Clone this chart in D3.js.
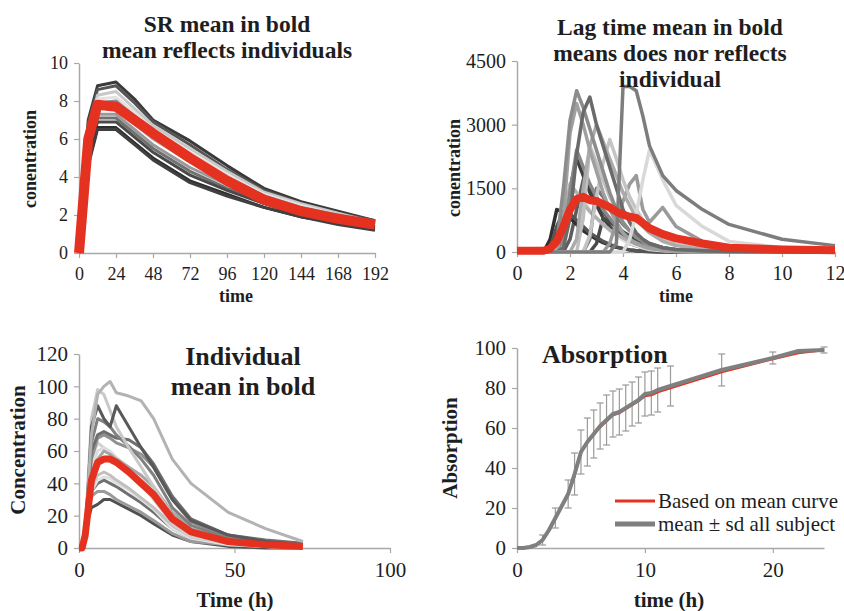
<!DOCTYPE html>
<head>
<meta charset="utf-8">
<title>PK panels</title>
<style>
  body { margin: 0; background: #fff; }
  svg, svg text { font-family: "Liberation Serif", Tinos, "Times New Roman", Times, "DejaVu Serif", serif; }
</style>
</head>
<body>
<script src="https://cdn.jsdelivr.net/npm/d3@7/dist/d3.min.js"></script>
<script>

// ---- panel 1 : SR ----
const srTime = [0, 6, 12, 24, 36, 48, 72, 96, 120, 144, 168, 192];
const srMean = [0, 6.0, 7.8, 7.7, 7.0, 6.3, 5.0, 3.8, 2.8, 2.2, 1.8, 1.5];
const srSubjects = [
  [0, 7.0, 8.8, 9.0, 8.1, 7.0, 5.9, 4.6, 3.4, 2.7, 2.2, 1.7],
  [0, 6.8, 8.6, 8.8, 7.9, 6.9, 5.7, 4.4, 3.3, 2.6, 2.1, 1.7],
  [0, 6.5, 8.3, 8.5, 7.6, 6.7, 5.5, 4.3, 3.2, 2.6, 2.1, 1.6],
  [0, 6.3, 8.1, 8.2, 7.4, 6.5, 5.3, 4.1, 3.1, 2.5, 2.0, 1.6],
  [0, 6.1, 7.9, 8.0, 7.2, 6.3, 5.1, 4.0, 3.0, 2.4, 2.0, 1.6],
  [0, 5.8, 7.6, 7.6, 6.8, 6.0, 4.8, 3.8, 2.9, 2.3, 1.9, 1.5],
  [0, 5.5, 7.3, 7.3, 6.5, 5.7, 4.5, 3.6, 2.8, 2.2, 1.8, 1.5],
  [0, 5.2, 7.1, 7.1, 6.3, 5.5, 4.3, 3.4, 2.7, 2.1, 1.7, 1.4],
  [0, 5.0, 6.9, 6.9, 6.1, 5.3, 4.1, 3.3, 2.6, 2.0, 1.7, 1.4],
  [0, 4.7, 6.6, 6.6, 5.8, 5.0, 3.8, 3.1, 2.4, 1.9, 1.6, 1.3],
  [0, 4.6, 6.5, 6.5, 5.7, 4.9, 3.7, 3.0, 2.4, 1.9, 1.5, 1.2]
];
const srColors = ['#3a3a3a', '#555', '#c8c8c8', '#e2e2e2', '#8a8a8a', '#b0b0b0',
                  '#999', '#707070', '#4a4a4a', '#2e2e2e', '#404040'];
const srXTicks = [0, 24, 48, 72, 96, 120, 144, 168, 192];
const srYTicks = [0, 2, 4, 6, 8, 10];

// ---- panel 2 : lag time ----
const lagTime = [0, 1, 1.25, 1.5, 1.75, 2, 2.25, 2.5, 2.75, 3, 3.25, 3.5, 3.75, 4,
                 4.25, 4.5, 4.75, 5, 5.5, 6, 7, 8, 10, 12];
const lagMean = [30, 30, 80, 250, 600, 1000, 1250, 1300, 1220, 1200, 1130, 1050, 950, 880,
                 830, 800, 680, 560, 420, 320, 200, 100, 60, 40];
const lagSubjects = [
  [0, 0, 0, 0, 0, 300, 1000, 1700, 1500, 1200, 950, 750, 550, 400, 300, 200, 150, 100, 50, 20, 0, 0, 0, 0],
  [0, 0, 300, 1000, 950, 800, 650, 500, 400, 300, 220, 160, 110, 80, 50, 30, 20, 10, 0, 0, 0, 0, 0, 0],
  [0, 0, 100, 600, 950, 900, 750, 600, 450, 350, 250, 180, 120, 80, 50, 30, 20, 10, 0, 0, 0, 0, 0, 0],
  [0, 0, 0, 0, 400, 1500, 2200, 1800, 1400, 1100, 800, 600, 400, 300, 200, 150, 100, 60, 30, 10, 0, 0, 0, 0],
  [0, 0, 0, 0, 0, 0, 0, 0, 0, 200, 800, 700, 600, 480, 380, 300, 230, 170, 100, 50, 20, 0, 0, 0],
  [0, 0, 0, 0, 0, 0, 300, 1200, 1000, 800, 650, 500, 380, 280, 200, 150, 100, 60, 30, 10, 0, 0, 0, 0],
  [0, 0, 0, 0, 400, 1600, 1400, 1150, 950, 800, 650, 520, 420, 330, 250, 190, 140, 100, 50, 25, 10, 0, 0, 0],
  [0, 0, 0, 0, 0, 0, 0, 0, 300, 1500, 1300, 1050, 850, 650, 500, 380, 280, 200, 100, 50, 20, 0, 0, 0],
  [0, 0, 0, 0, 300, 1400, 2400, 2000, 1600, 1300, 1000, 800, 600, 450, 300, 200, 150, 100, 50, 20, 0, 0, 0, 0],
  [0, 0, 0, 0, 0, 0, 0, 800, 2500, 2100, 1700, 1300, 1000, 700, 500, 350, 250, 180, 100, 50, 20, 0, 0, 0],
  [0, 0, 0, 0, 0, 0, 0, 0, 0, 0, 0, 200, 700, 1200, 1600, 1800, 1000, 700, 1050, 600, 250, 100, 30, 0],
  [0, 0, 0, 0, 0, 0, 0, 0, 400, 1300, 2100, 2650, 2200, 1700, 1300, 1000, 750, 550, 300, 180, 80, 30, 0, 0],
  [0, 0, 0, 0, 0, 0, 300, 1500, 2500, 3000, 2600, 2200, 1800, 1400, 1100, 800, 600, 450, 250, 150, 60, 20, 0, 0],
  [0, 0, 0, 0, 800, 2800, 3500, 3000, 2400, 1900, 1400, 1000, 700, 450, 300, 200, 130, 80, 40, 20, 0, 0, 0, 0],
  [0, 0, 0, 200, 1500, 3100, 3800, 3400, 2900, 2400, 1900, 1400, 1000, 700, 500, 350, 250, 180, 100, 60, 30, 10, 0, 0],
  [0, 0, 0, 0, 100, 800, 2300, 3300, 3650, 3000, 2500, 2000, 1500, 1000, 700, 450, 300, 200, 100, 60, 30, 10, 0, 0],
  [0, 0, 0, 0, 0, 0, 0, 0, 0, 0, 0, 0, 0, 0, 300, 900, 1700, 2400, 1700, 1100, 600, 250, 100, 50],
  [0, 0, 0, 0, 0, 0, 0, 0, 0, 0, 0, 0, 200, 3900, 3900, 3800, 3200, 2500, 1800, 1450, 1000, 650, 300, 150]
];
const lagColors = ['#5c5c5c', '#303030', '#555', '#404040', '#4a4a4a', '#e0e0e0',
                   '#b0b0b0', '#777', '#888', '#bfbfbf', '#9a9a9a', '#c4c4c4',
                   '#ababab', '#a0a0a0', '#8c8c8c', '#6a6a6a', '#d9d9d9', '#7d7d7d'];
const lagXTicks = [0, 2, 4, 6, 8, 10, 12];
const lagYTicks = [0, 1500, 3000, 4500];

// ---- panel 3 : individual ----
const indTime = [0, 1, 2, 3, 4, 6, 8, 10, 12, 16, 20, 24, 30, 36, 48, 60, 72];
const indMean = [0, 0, 8, 25, 42, 53, 55, 55, 53, 47, 40, 33, 18, 10, 4, 2, 1];
const indSubjects = [
  [0, 0, 5, 18, 25, 27, 30, 30, 28, 24, 20, 15, 8, 4, 1, 0, 0],
  [0, 0, 6, 22, 32, 35, 35, 33, 30, 26, 22, 17, 9, 4, 2, 1, 0],
  [0, 0, 5, 20, 35, 40, 42, 40, 38, 33, 28, 22, 12, 6, 2, 1, 0],
  [0, 0, 5, 20, 35, 42, 44, 43, 40, 36, 30, 24, 12, 6, 2, 1, 0],
  [0, 0, 6, 22, 38, 45, 47, 45, 42, 37, 31, 25, 14, 7, 3, 1, 0],
  [0, 0, 8, 30, 55, 65, 62, 58, 55, 48, 40, 30, 15, 7, 3, 1, 0],
  [0, 0, 7, 28, 50, 60, 62, 60, 56, 50, 43, 36, 20, 10, 4, 2, 1],
  [0, 0, 6, 25, 45, 55, 60, 58, 55, 50, 45, 38, 22, 12, 5, 2, 1],
  [0, 0, 8, 30, 55, 68, 70, 68, 65, 62, 58, 50, 30, 16, 7, 4, 2],
  [0, 0, 8, 35, 60, 70, 72, 70, 68, 67, 62, 52, 32, 18, 8, 5, 3],
  [0, 0, 8, 35, 65, 80, 78, 75, 70, 63, 55, 45, 25, 14, 6, 3, 1],
  [0, 0, 10, 45, 80, 98, 95, 85, 75, 62, 50, 38, 20, 10, 4, 2, 1],
  [0, 0, 10, 40, 75, 88, 80, 75, 88, 75, 62, 50, 30, 17, 8, 4, 2],
  [0, 0, 10, 40, 70, 95, 100, 103, 96, 94, 91, 80, 55, 40, 22, 12, 4]
];
const indColors = ['#505050', '#9a9a9a', '#707070', '#e0e0e0', '#c0c0c0', '#d0d0d0',
                   '#dcdcdc', '#a6a6a6', '#909090', '#6e6e6e', '#808080', '#c8c8c8',
                   '#595959', '#b3b3b3'];
const indXTicks = [0, 50, 100];
const indYTicks = [0, 20, 40, 60, 80, 100, 120];

// ---- panel 4 : absorption ----
const absTime = [0, 0.5, 1, 1.5, 2, 2.5, 3, 3.5, 4, 4.5, 5, 5.5, 6, 6.5, 7, 7.5, 8, 8.5,
                 9, 9.5, 10, 10.5, 11, 12, 16, 20, 22, 24];
const absSubjMean = [0, 0, 0.5, 1.5, 4, 9, 15, 21, 27, 37, 48, 53, 57, 61, 64, 67, 68, 70,
                     72, 74, 77, 77.5, 79, 81, 89, 95, 98.5, 99];
const absSd = [null, null, null, null, 2.5, null, 5, null, 7, 10.5, 11, 12, 12, 11.5, 12.5, 11.5, 11.5, 11.5,
               11, 11.5, 11, 11, 11, 10, 8, 3, null, 1.5];
const absMeanCurve = [0, 0, 0.5, 1.5, 4, 9, 15, 21, 27, 36, 48, 53, 57, 60.5, 63.5, 66.5, 67.5, 69.5,
                      71.5, 73.5, 76, 76.5, 78, 80, 88, 94.5, 97.5, 99];
const absXTicks = [0, 10, 20];
const absYTicks = [0, 20, 40, 60, 80, 100];
const absLegend = ['Based on mean curve', 'mean \u00b1 sd all subject'];

const red = '#e5311f';
const axisGray = '#a8a8a8';
const ink = '#1e1e1e';
const serif = '"Liberation Serif", Tinos, "Times New Roman", Times, "DejaVu Serif", serif';

const svg = d3.select('body').append('svg')
    .attr('width', 844)
    .attr('height', 611)
    .attr('font-family', serif);

function panel(p) {
    const x = d3.scaleLinear().domain(p.xDomain).range(p.xRange);
    const y = d3.scaleLinear().domain(p.yDomain).range(p.yRange);
    const g = svg.append('g');

    const xAxis = d3.axisBottom(x).tickValues(p.xTicks).tickFormat(d3.format('d'))
        .tickSize(5).tickSizeOuter(0).tickPadding(9);
    const yAxis = d3.axisLeft(y).tickValues(p.yTicks).tickFormat(d3.format('d'))
        .tickSize(5).tickSizeOuter(0).tickPadding(6);

    const gx = g.append('g')
        .attr('transform', 'translate(0,' + p.yRange[0] + ')')
        .call(xAxis);
    const gy = g.append('g')
        .attr('transform', 'translate(' + p.xRange[0] + ',0)')
        .call(yAxis);

    [gx, gy].forEach(a => {
        a.attr('font-family', serif).attr('font-size', p.tickSize);
        a.select('.domain').attr('stroke', axisGray).attr('stroke-width', 1.5);
        a.selectAll('.tick line').attr('stroke', axisGray).attr('stroke-width', 1.2);
        a.selectAll('.tick text').attr('fill', ink);
    });

    // axis titles
    g.append('text')
        .attr('x', p.xLabelPos[0])
        .attr('y', p.xLabelPos[1])
        .attr('text-anchor', 'middle')
        .attr('font-weight', 'bold')
        .attr('font-size', p.labelSize)
        .attr('fill', ink)
        .text(p.xLabel);
    g.append('text')
        .attr('transform', 'translate(' + p.yLabelPos[0] + ',' + p.yLabelPos[1] + ') rotate(-90)')
        .attr('text-anchor', 'middle')
        .attr('font-weight', 'bold')
        .attr('font-size', p.labelSize)
        .attr('fill', ink)
        .text(p.yLabel);

    return {x, y, g};
}

function title(lines, cx, y0, step, size, anchor) {
    svg.append('text')
        .attr('text-anchor', anchor)
        .attr('font-weight', 'bold')
        .attr('font-size', size)
        .attr('fill', ink)
        .selectAll('tspan')
        .data(lines)
        .join('tspan')
        .attr('x', cx)
        .attr('y', (d, i) => y0 + i * step)
        .text(d => d);
}

function curves(P, times, rows, colors, width) {
    const line = d3.line()
        .x((d, i) => P.x(times[i]))
        .y(d => P.y(d));
    P.g.append('g')
        .selectAll('path')
        .data(rows)
        .join('path')
        .attr('d', line)
        .attr('fill', 'none')
        .attr('stroke', (d, i) => colors[i])
        .attr('stroke-width', width)
        .attr('stroke-linejoin', 'round');
}

function meanLine(P, times, vals, color, width) {
    const line = d3.line()
        .x((d, i) => P.x(times[i]))
        .y(d => P.y(d));
    P.g.append('path')
        .datum(vals)
        .attr('d', line)
        .attr('fill', 'none')
        .attr('stroke', color)
        .attr('stroke-width', width)
        .attr('stroke-linejoin', 'round');
}

// panel 1
const P1 = panel({
    xDomain: [0, 192], xRange: [79, 375], yDomain: [0, 10], yRange: [253, 63],
    xTicks: srXTicks, yTicks: srYTicks, tickSize: 18, labelSize: 18,
    xLabel: 'time', xLabelPos: [236, 302], yLabel: 'conentration', yLabelPos: [36, 159]
});
curves(P1, srTime, srSubjects, srColors, 3);
meanLine(P1, srTime, srMean, red, 10);
title(['SR mean in bold', 'mean reflects individuals'], 227, 32, 26, 23.5, 'middle');

// panel 2
const P2 = panel({
    xDomain: [0, 12], xRange: [517, 835], yDomain: [0, 4500], yRange: [252, 61],
    xTicks: lagXTicks, yTicks: lagYTicks, tickSize: 20, labelSize: 18,
    xLabel: 'time', xLabelPos: [676, 302], yLabel: 'conentration', yLabelPos: [460, 168]
});
curves(P2, lagTime, lagSubjects, lagColors, 3.5);
meanLine(P2, lagTime, lagMean, red, 8);
title(['Lag time mean in bold', 'means does nor reflects', 'individual'], 670, 35, 26, 23.5, 'middle');

// panel 3
const P3 = panel({
    xDomain: [0, 100], xRange: [79, 390], yDomain: [0, 120], yRange: [548, 354],
    xTicks: indXTicks, yTicks: indYTicks, tickSize: 21, labelSize: 21,
    xLabel: 'Time (h)', xLabelPos: [235, 607], yLabel: 'Concentration', yLabelPos: [25, 450]
});
curves(P3, indTime, indSubjects, indColors, 3);
meanLine(P3, indTime, indMean, red, 7);
title(['Individual', 'mean in bold'], 243, 365, 30, 26, 'middle');

// panel 4
const P4 = panel({
    xDomain: [0, 24], xRange: [517, 824], yDomain: [0, 100], yRange: [548, 348],
    xTicks: absXTicks, yTicks: absYTicks, tickSize: 21, labelSize: 21,
    xLabel: 'time (h)', xLabelPos: [669, 607], yLabel: 'Absorption', yLabelPos: [457, 448]
});

const bars = absTime.map((t, i) => ({t: t, m: absSubjMean[i], sd: absSd[i]}))
    .filter(d => d.sd !== null);
const eb = P4.g.append('g')
    .attr('stroke', '#9a9a9a')
    .attr('stroke-width', 1.2);
eb.selectAll('line.v')
    .data(bars)
    .join('line')
    .attr('class', 'v')
    .attr('x1', d => P4.x(d.t)).attr('x2', d => P4.x(d.t))
    .attr('y1', d => P4.y(d.m - d.sd)).attr('y2', d => P4.y(d.m + d.sd));
eb.selectAll('line.top')
    .data(bars)
    .join('line')
    .attr('class', 'top')
    .attr('x1', d => P4.x(d.t) - 3.5).attr('x2', d => P4.x(d.t) + 3.5)
    .attr('y1', d => P4.y(d.m + d.sd)).attr('y2', d => P4.y(d.m + d.sd));
eb.selectAll('line.bot')
    .data(bars)
    .join('line')
    .attr('class', 'bot')
    .attr('x1', d => P4.x(d.t) - 3.5).attr('x2', d => P4.x(d.t) + 3.5)
    .attr('y1', d => P4.y(d.m - d.sd)).attr('y2', d => P4.y(d.m - d.sd));

meanLine(P4, absTime, absMeanCurve, red, 2.5);
meanLine(P4, absTime, absSubjMean, '#7f7f7f', 4);

svg.append('text')
    .attr('x', 542)
    .attr('y', 363)
    .attr('font-weight', 'bold')
    .attr('font-size', 26)
    .attr('fill', ink)
    .text('Absorption');

const legend = svg.append('g');
const legRows = [{label: absLegend[0], color: red, w: 3, y: 501},
                 {label: absLegend[1], color: '#7f7f7f', w: 5, y: 524}];
legend.selectAll('line')
    .data(legRows)
    .join('line')
    .attr('x1', 615).attr('x2', 655)
    .attr('y1', d => d.y).attr('y2', d => d.y)
    .attr('stroke', d => d.color)
    .attr('stroke-width', d => d.w);
legend.selectAll('text')
    .data(legRows)
    .join('text')
    .attr('x', 658)
    .attr('y', d => d.y + 7)
    .attr('font-size', 21)
    .attr('fill', ink)
    .text(d => d.label);

</script>
</body>
